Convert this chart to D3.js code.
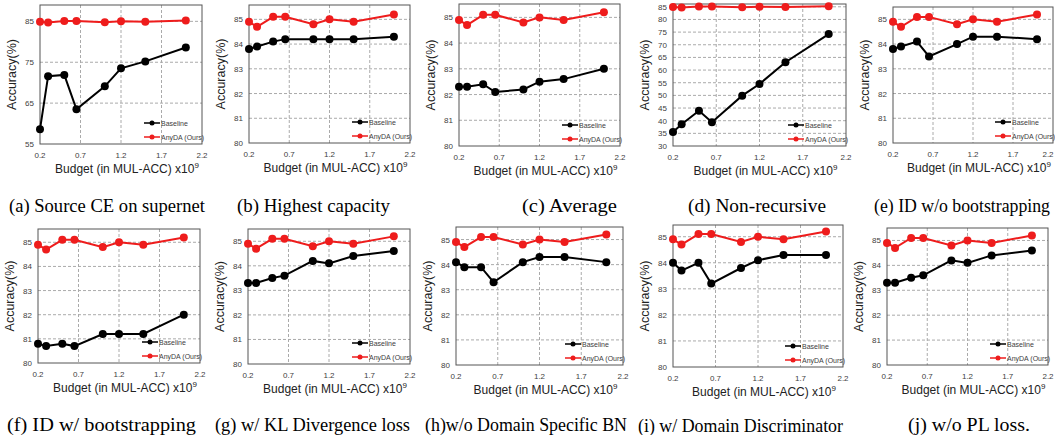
<!DOCTYPE html>
<html>
<head>
<meta charset="utf-8">
<script src="https://cdn.jsdelivr.net/npm/d3@7"></script>
<style>
  body { margin: 0; background: #fff; }
  svg { display: block; }
</style>
</head>
<body>
<svg id="chart"></svg>
<script>
// budgets (x10^9 MUL-ACC) shared by every panel
const budget = [0.2, 0.3, 0.5, 0.65, 1.0, 1.2, 1.5, 2.0];
const xTicks = [0.2, 0.7, 1.2, 1.7, 2.2];
const seriesNames = ["Baseline", "AnyDA (Ours)"];

// AnyDA (Ours) - same curve in every panel
const anyda = [84.9, 84.7, 85.1, 85.1, 84.8, 85.0, 84.9, 85.2];

// Baseline curves, one per panel
const baselineA = [58.6, 71.6, 71.9, 63.5, 69.1, 73.5, 75.2, 78.6];
const baselineB = [83.8, 83.9, 84.1, 84.2, 84.2, 84.2, 84.2, 84.3];
const baselineC = [82.3, 82.3, 82.4, 82.1, 82.2, 82.5, 82.6, 83.0];
const baselineD = [35.5, 38.6, 43.9, 39.4, 49.9, 54.5, 63.1, 74.2];
const baselineE = [83.8, 83.9, 84.1, 83.5, 84.0, 84.3, 84.3, 84.2];
const baselineF = [80.8, 80.7, 80.8, 80.7, 81.2, 81.2, 81.2, 82.0];
const baselineG = [83.3, 83.3, 83.5, 83.6, 84.2, 84.1, 84.4, 84.6];
const baselineH = [84.1, 83.9, 83.9, 83.3, 84.1, 84.3, 84.3, 84.1];
const baselineI = [84.0, 83.7, 84.0, 83.2, 83.8, 84.1, 84.3, 84.3];
const baselineJ = [83.3, 83.3, 83.5, 83.6, 84.2, 84.1, 84.4, 84.6];
const baselines = [baselineA, baselineB, baselineC, baselineD, baselineE,
                   baselineF, baselineG, baselineH, baselineI, baselineJ];

const yTicksA = [55, 65, 75, 85];
const yTicksD = [30, 35, 40, 45, 50, 55, 60, 65, 70, 75, 80, 85];
const yTicksStd = [80, 81, 82, 83, 84, 85];

const captions = [
  "(a) Source CE on supernet", "(b) Highest capacity", "(c) Average",
  "(d) Non-recursive", "(e) ID w/o bootstrapping",
  "(f) ID w/ bootstrapping", "(g) w/ KL Divergence loss", "(h)w/o Domain Specific BN",
  "(i) w/ Domain Discriminator", "(j) w/o PL loss."
];

const W = 1055, H = 435;
const svg = d3.select("#chart").attr("width", W).attr("height", H);

// plot boxes as measured on the reference
const boxes = [
  { l: 40,  r: 202,  t: 5,   b: 144, y: [55, 89],    ticks: yTicksA },
  { l: 249, r: 410,  t: 5,   b: 143, y: [80, 85.58], ticks: yTicksStd },
  { l: 459, r: 620,  t: 4,   b: 146, y: [80, 85.52], ticks: yTicksStd },
  { l: 673, r: 846,  t: 4,   b: 146, y: [30, 86.1],  ticks: yTicksD },
  { l: 893, r: 1053, t: 7,   b: 143, y: [80, 85.5],  ticks: yTicksStd },
  { l: 38,  r: 200,  t: 229, b: 363, y: [80, 85.55], ticks: yTicksStd },
  { l: 248, r: 410,  t: 229, b: 364, y: [80, 85.5],  ticks: yTicksStd },
  { l: 456, r: 623,  t: 227, b: 365, y: [80, 85.5],  ticks: yTicksStd },
  { l: 673, r: 843,  t: 225, b: 367, y: [80, 85.45], ticks: yTicksStd },
  { l: 887, r: 1048, t: 228, b: 365, y: [80, 85.5],  ticks: yTicksStd }
];
const capPos = [
  { x: 9,   w: 196, y: 212 }, { x: 237, w: 153, y: 212 }, { x: 522, w: 95,  y: 212 },
  { x: 688, w: 138, y: 212 }, { x: 874, w: 176, y: 212 },
  { x: 7,   w: 189, y: 431 }, { x: 215, w: 195, y: 431 }, { x: 425, w: 202, y: 431 },
  { x: 638, w: 205, y: 432 }, { x: 908, w: 122, y: 431 }
];

const RED = "#ee1c1c", BLACK = "#000";
const sans = "'Liberation Sans', Arial, sans-serif";

boxes.forEach((bx, i) => {
  const g = svg.append("g");
  const x = d3.scaleLinear().domain([0.2, 2.2]).range([bx.l, bx.r]);
  const y = d3.scaleLinear().domain(bx.y).range([bx.b, bx.t]);

  // grid
  g.selectAll(".hg").data(bx.ticks.slice(1)).enter().append("line")
    .attr("x1", bx.l).attr("x2", bx.r)
    .attr("y1", d => y(d)).attr("y2", d => y(d))
    .attr("stroke", "#aaa").attr("stroke-dasharray", "3,2");
  g.selectAll(".vg").data(xTicks.slice(1, -1)).enter().append("line")
    .attr("y1", bx.t).attr("y2", bx.b)
    .attr("x1", d => x(d)).attr("x2", d => x(d))
    .attr("stroke", "#aaa").attr("stroke-dasharray", "3,2");

  g.append("rect")
    .attr("x", bx.l).attr("y", bx.t)
    .attr("width", bx.r - bx.l).attr("height", bx.b - bx.t)
    .attr("fill", "none").attr("stroke", "#555").attr("stroke-width", 1);

  // tick labels
  g.selectAll(".xt").data(xTicks).enter().append("text")
    .attr("x", d => Math.min(x(d), W - 7)).attr("y", bx.b + 14)
    .attr("text-anchor", "middle")
    .style("font", "8px " + sans).attr("fill", "#404040")
    .text(d => d.toFixed(1));
  g.selectAll(".yt").data(bx.ticks).enter().append("text")
    .attr("x", bx.l - 6).attr("y", d => y(d) + 3)
    .attr("text-anchor", "end")
    .style("font", "8px " + sans).attr("fill", "#404040")
    .text(d => d);

  // axis titles
  const xt = g.append("text")
    .attr("x", (bx.l + bx.r) / 2 + 6).attr("y", bx.b + 29)
    .attr("text-anchor", "middle")
    .style("font", "12px " + sans).attr("fill", "#222")
    .text("Budget (in MUL-ACC) x10");
  xt.append("tspan").attr("dy", -5).style("font-size", "8px").text("9");
  g.append("text")
    .attr("transform", `translate(${bx.l - 24},${(bx.t + bx.b) / 2}) rotate(-90)`)
    .attr("text-anchor", "middle")
    .style("font", "12.5px " + sans).attr("fill", "#222")
    .text("Accuracy(%)");

  // series
  const line = d3.line().x((d, k) => x(budget[k])).y(d => y(d));
  [[baselines[i], BLACK], [anyda, RED]].forEach(([vals, col]) => {
    g.append("path").datum(vals)
      .attr("d", line).attr("fill", "none")
      .attr("stroke", col).attr("stroke-width", 2);
    g.selectAll(null).data(vals).enter().append("circle")
      .attr("cx", (d, k) => x(budget[k])).attr("cy", d => y(d))
      .attr("r", 4).attr("fill", col);
  });

  // legend
  seriesNames.forEach((name, k) => {
    const ly = bx.b - 21 + k * 14;
    const lx = bx.r - 58;
    const col = k === 0 ? BLACK : RED;
    g.append("line").attr("x1", lx).attr("x2", lx + 16)
      .attr("y1", ly).attr("y2", ly).attr("stroke", col).attr("stroke-width", 1.5);
    g.append("circle").attr("cx", lx + 8).attr("cy", ly).attr("r", 2.5).attr("fill", col);
    g.append("text").attr("x", lx + 17).attr("y", ly + 2.5)
      .style("font", "7px " + sans).attr("fill", "#404040")
      .text(name);
  });

  // caption
  const cp = capPos[i];
  svg.append("text")
    .attr("x", cp.x).attr("y", cp.y)
    .attr("textLength", cp.w).attr("lengthAdjust", "spacingAndGlyphs")
    .style("font", "18px 'Liberation Serif', 'Times New Roman', serif")
    .attr("fill", "#000")
    .text(captions[i]);
});
</script>
</body>
</html>
